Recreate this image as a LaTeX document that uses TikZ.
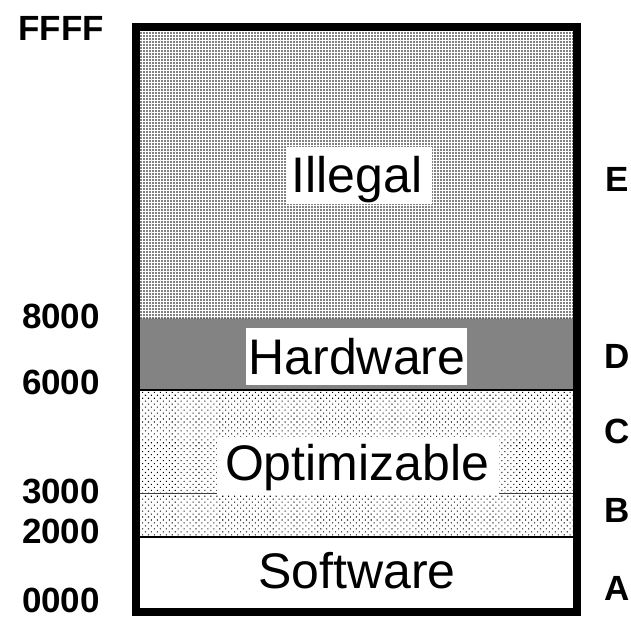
\documentclass[tikz,border=0pt]{standalone}
\usepackage{fontspec}
\setmainfont{Liberation Sans}
\usetikzlibrary{patterns.meta}
\begin{document}
\begin{tikzpicture}[x=1pt,y=-1pt,
  addr/.style={font=\fontsize{35}{35}\selectfont\bfseries, inner sep=0pt, anchor=base},
  tag/.style={font=\fontsize{35}{35}\selectfont\bfseries, inner sep=0pt, anchor=base west},
  seg/.style={font=\fontsize{50}{50}\selectfont, inner sep=0pt, anchor=base},
  labbg/.style={fill=white},
  illegalfill/.style={pattern={Dots[distance=3pt,radius=0.8pt]}},
  hardfill/.style={pattern={Dots[distance=2pt,radius=0.6pt]}},
  optfill/.style={pattern={Dots[distance=4.2pt,radius=0.75pt,angle=45]}},
  bound/.style={line width=2.2pt},
  subbound/.style={line width=1.2pt, black!75}]
\useasboundingbox (0,0) rectangle (631,618);
% regions
\fill[white] (136,27) rectangle (577,612);
\fill[illegalfill] (136,27) rectangle (577,318.5);
\fill[black!33] (136,318.5) rectangle (577,390);
\fill[hardfill] (136,318.5) rectangle (577,390);
\fill[optfill] (136,390) rectangle (577,537);
% boundaries
\coordinate (l390) at (136,390); \coordinate (r390) at (577,390);
\coordinate (l537) at (136,537); \coordinate (r537) at (577,537);
\draw[bound] (l390) -- (r390);
\draw[bound] (l537) -- (r537);
% white label backgrounds
\fill[labbg] (287,147) rectangle (432,204);
\fill[labbg] (246,328) rectangle (467,385);
\fill[labbg] (217,437) rectangle (499,495);
% 3000 line segments
\coordinate (a3l) at (138,493.5); \coordinate (b3l) at (217,493.5);
\coordinate (a3r) at (499,493.5); \coordinate (b3r) at (575,493.5);
\draw[subbound] (a3l) -- (b3l);
\draw[subbound] (a3r) -- (b3r);
% outer frame
\draw[line width=8pt] (136,27) rectangle (577,612);
% segment labels
\node[seg] (illegal) at (357,192) {Illegal};
\node[seg] (hardware) at (357,374) {Hardware};
\node[seg] (optim) at (357,480) {Optimizable};
\node[seg] (software) at (357,588) {Software};
% addresses
\node[addr] (ffff) at (61,41) {FFFF};
\node[addr] (a8000) at (61,328) {8000};
\node[addr] (a6000) at (61,394) {6000};
\node[addr] (a3000) at (61,503) {3000};
\node[addr] (a2000) at (61,543) {2000};
\node[addr] (a0000) at (61,612) {0000};
% region tags
\node[tag] (tE) at (605,191) {E};
\node[tag] (tD) at (604,368) {D};
\node[tag] (tC) at (604,443) {C};
\node[tag] (tB) at (604,522) {B};
\node[tag] (tA) at (604,600) {A};
\end{tikzpicture}
\end{document}
